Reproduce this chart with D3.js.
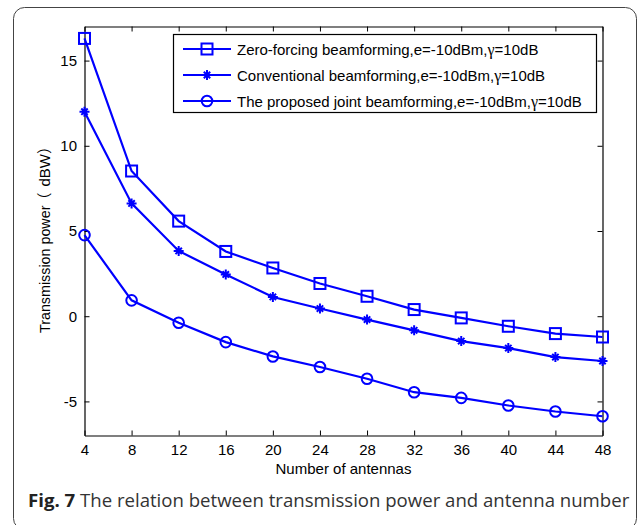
<!DOCTYPE html>
<html>
<head>
<meta charset="utf-8">
<script src="https://cdn.jsdelivr.net/npm/d3@7"></script>
<style>
  html, body { margin: 0; padding: 0; background: #fff; }
  svg { display: block; }
</style>
</head>
<body>
<svg id="chart" width="637" height="525"></svg>
<script>
// ---- data ----
const antennas = [4, 8, 12, 16, 20, 24, 28, 32, 36, 40, 44, 48];
const zeroForcing = [16.3, 8.52, 5.58, 3.8, 2.83, 1.92, 1.17, 0.39, -0.1, -0.59, -1.02, -1.22];
const conventional = [12.0, 6.62, 3.83, 2.45, 1.13, 0.45, -0.2, -0.83, -1.46, -1.87, -2.4, -2.63];
const proposed = [4.76, 0.93, -0.38, -1.52, -2.36, -2.98, -3.67, -4.46, -4.79, -5.24, -5.59, -5.87];
const seriesNames = [
  ["Zero-forcing beamforming,e=-10dBm,", "γ", "=10dB"],
  ["Conventional beamforming,e=-10dBm,", "γ", "=10dB"],
  ["The proposed joint beamforming,e=-10dBm,", "γ", "=10dB"]
];
const markerTypes = ["square", "star", "circle"];
const xTicks = [4, 8, 12, 16, 20, 24, 28, 32, 36, 40, 44, 48];
const yTicks = [-5, 0, 5, 10, 15];
const xLabel = "Number of antennas";
const yLabelParts = ["Transmission power", "（", "dBW", "）"];
const captionBold = "Fig. 7";
const captionText = " The relation between transmission power and antenna number";

// ---- layout ----
const svg = d3.select("#chart");
const L = 84.5, R = 602.5, T = 26.5, B = 435.5;
const blue = "#0000ff";
const font = "'Liberation Sans', Arial, sans-serif";
const cjk = "'Noto Sans CJK SC', 'Noto Sans CJK JP', sans-serif";

const x = d3.scaleLinear().domain([4, 48]).range([L, R]);
const y = d3.scaleLinear().domain([-7, 17]).range([B, T]);
const fmt = d => String(d);

// outer frame
svg.append("rect")
  .attr("x", 13.5).attr("y", 7.5).attr("width", 623).attr("height", 522)
  .attr("rx", 11).attr("ry", 11)
  .attr("fill", "none").attr("stroke", "#444").attr("stroke-width", 1);

// axes (ticks inward, box on)
const tl = 5;
const gB = svg.append("g").attr("transform", `translate(0,${B})`)
  .call(d3.axisBottom(x).tickValues(xTicks).tickFormat(fmt).tickSizeInner(-tl).tickSizeOuter(0).tickPadding(9));
const gT = svg.append("g").attr("transform", `translate(0,${T})`)
  .call(d3.axisTop(x).tickValues(xTicks).tickSizeInner(-tl).tickSizeOuter(0).tickFormat(""));
const gL = svg.append("g").attr("transform", `translate(${L},0)`)
  .call(d3.axisLeft(y).tickValues(yTicks).tickFormat(fmt).tickSizeInner(-tl).tickSizeOuter(0).tickPadding(9));
const gR = svg.append("g").attr("transform", `translate(${R},0)`)
  .call(d3.axisRight(y).tickValues(yTicks).tickSizeInner(-tl).tickSizeOuter(0).tickFormat(""));
[gB, gT, gL, gR].forEach(g => {
  g.select(".domain").attr("stroke", "#000").attr("stroke-width", 1.2);
  g.selectAll(".tick line").attr("stroke", "#000").attr("stroke-width", 1);
  g.selectAll(".tick text").attr("font-family", font).attr("font-size", 15).attr("fill", "#000");
});
gL.selectAll(".tick text").attr("dx", "0.1em");

// series
const allSeries = [zeroForcing, conventional, proposed];
const line = d3.line().x(d => x(d[0])).y(d => y(d[1]));

function drawMarker(g, type, cx, cy) {
  if (type === "square") {
    g.append("rect").attr("x", cx - 5.5).attr("y", cy - 5.5).attr("width", 11).attr("height", 11)
      .attr("fill", "none").attr("stroke", blue).attr("stroke-width", 2);
  } else if (type === "circle") {
    g.append("circle").attr("cx", cx).attr("cy", cy).attr("r", 5.3)
      .attr("fill", "none").attr("stroke", blue).attr("stroke-width", 2);
  } else {
    const s = 5, d = 3.2;
    const p = `M${cx - s},${cy}L${cx + s},${cy}M${cx},${cy - s}L${cx},${cy + s}` +
      `M${cx - d},${cy - d}L${cx + d},${cy + d}M${cx - d},${cy + d}L${cx + d},${cy - d}`;
    g.append("path").attr("d", p).attr("stroke", blue).attr("stroke-width", 2).attr("fill", "none");
  }
}

allSeries.forEach((vals, i) => {
  const pts = antennas.map((a, j) => [a, vals[j]]);
  const g = svg.append("g");
  g.append("path").datum(pts).attr("d", line)
    .attr("fill", "none").attr("stroke", blue).attr("stroke-width", 2.2);
  pts.forEach(p => drawMarker(g, markerTypes[i], x(p[0]), y(p[1])));
});

// legend
const lg = svg.append("g");
lg.append("rect").attr("x", 173.5).attr("y", 34.5).attr("width", 423).attr("height", 78)
  .attr("fill", "#fff").attr("stroke", "#000").attr("stroke-width", 1.2);
seriesNames.forEach((nm, i) => {
  const cy = 49 + i * 26;
  lg.append("line").attr("x1", 183).attr("x2", 231).attr("y1", cy).attr("y2", cy)
    .attr("stroke", blue).attr("stroke-width", 2.2);
  drawMarker(lg, markerTypes[i], 207, cy);
  const t = lg.append("text").attr("x", 237).attr("y", cy + 5.5)
    .attr("font-family", font).attr("font-size", 15).attr("fill", "#000");
  t.append("tspan").text(nm[0]);
  t.append("tspan").attr("font-family", "'Liberation Serif', 'Times New Roman', serif").attr("font-size", 16).text(nm[1]);
  t.append("tspan").text(nm[2]);
});

// axis labels
svg.append("text").attr("x", (L + R) / 2).attr("y", 474)
  .attr("text-anchor", "middle").attr("font-family", font).attr("font-size", 15)
  .attr("fill", "#000").text(xLabel);
const yl = svg.append("text").attr("transform", `translate(50,333) rotate(-90)`)
  .attr("text-anchor", "start").attr("font-family", font).attr("font-size", 14.3)
  .attr("fill", "#000");
yl.append("tspan").text(yLabelParts[0]);
yl.append("tspan").attr("font-family", cjk).attr("font-size", 15).attr("dx", -2).text(yLabelParts[1]);
yl.append("tspan").attr("font-size", 15).attr("dx", 6).text(yLabelParts[2]);
yl.append("tspan").attr("font-family", cjk).attr("font-size", 15).text(yLabelParts[3]);

// caption
const cap = svg.append("text").attr("x", 28).attr("y", 507)
  .attr("font-family", "'Open Sans', 'Noto Sans', sans-serif").attr("font-size", 18.6).attr("fill", "#333");
cap.append("tspan").attr("font-weight", "bold").attr("fill", "#222").text(captionBold);
cap.append("tspan").text(captionText);
</script>
</body>
</html>
